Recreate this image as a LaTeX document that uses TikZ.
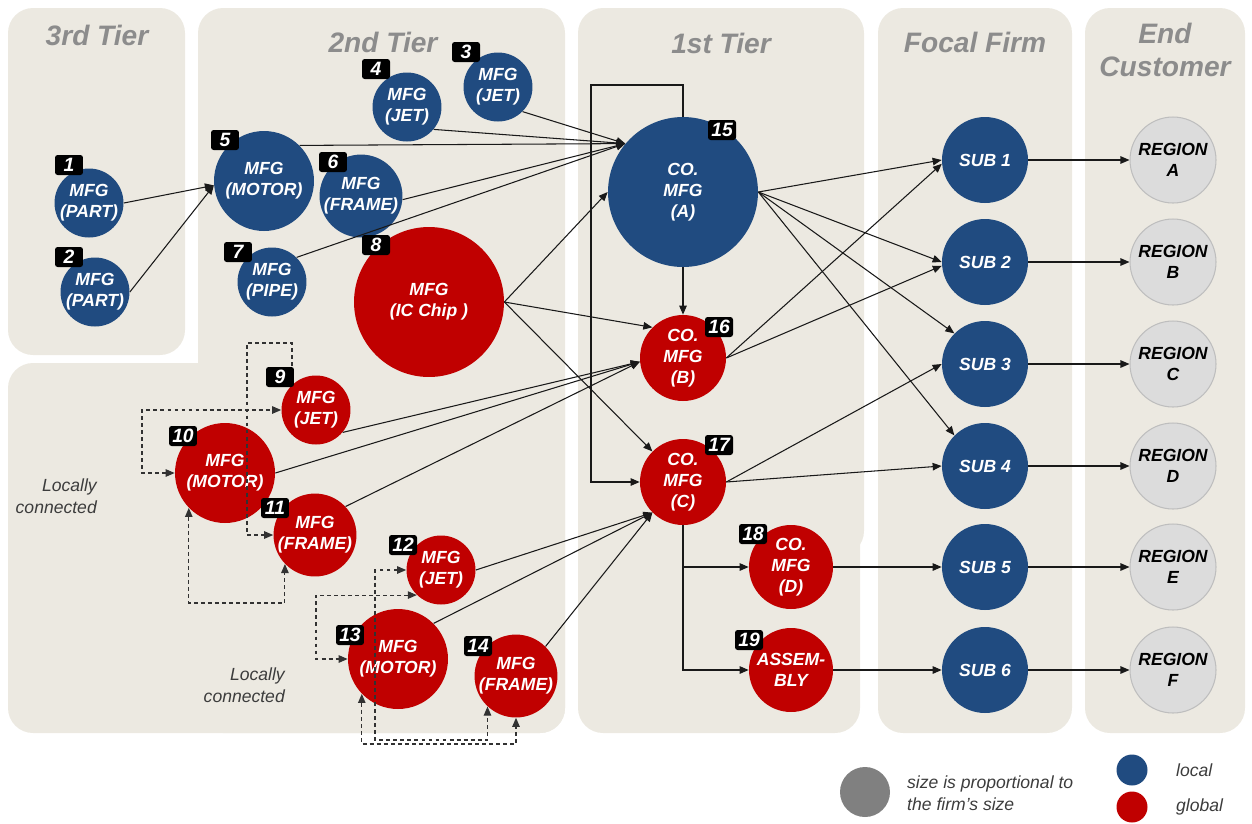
\documentclass[tikz,border=0pt]{standalone}
\usepackage{fontspec}
\setmainfont{Liberation Sans}
\usetikzlibrary{arrows.meta}
\definecolor{panel}{RGB}{236,233,225}
\definecolor{localblue}{RGB}{32,75,128}
\definecolor{globalred}{RGB}{192,0,0}
\definecolor{headgray}{RGB}{140,140,140}
\definecolor{notegray}{RGB}{60,60,60}
\definecolor{regionfill}{RGB}{220,220,220}
\definecolor{regionedge}{RGB}{190,190,190}
\definecolor{sizegray}{RGB}{128,128,128}
\definecolor{linkc}{RGB}{25,25,25}
\definecolor{dashc}{RGB}{50,50,50}
\begin{document}
\begin{tikzpicture}[x=0.02cm,y=-0.02cm,
  panelbox/.style={fill=panel, rounded corners=0.5cm},
  header/.style={text=headgray, font=\fontsize{16}{19}\selectfont\bfseries\itshape, align=center},
  firm/.style={circle, inner sep=0pt, text=white, align=center,
    font=\fontsize{10}{12}\selectfont\bfseries\itshape},
  bluefirm/.style={firm, fill=localblue},
  redfirm/.style={firm, fill=globalred},
  small/.style={minimum size=1.38cm},
  mid/.style={minimum size=1.72cm},
  big/.style={minimum size=2cm},
  huge/.style={minimum size=3cm},
  region/.style={circle, inner sep=0pt, minimum size=1.72cm, fill=regionfill, draw=regionedge,
    line width=0.6pt, text=black, align=center, font=\fontsize{10}{12}\selectfont\bfseries\itshape},
  numtag/.style={fill=black, rounded corners=1.5pt, text=white, inner sep=0pt,
    minimum width=0.56cm, minimum height=0.4cm, font=\fontsize{11}{11}\selectfont\bfseries\itshape},
  link/.style={draw=linkc, line width=0.6pt, -{Triangle[length=1.8mm,width=1.5mm]}},
  dashlink/.style={draw=dashc, line width=0.6pt, dash pattern=on 2.2pt off 1.8pt},
  tip/.style={-{Triangle[length=1.8mm,width=1.5mm]}},
  bothtips/.style={{Triangle[length=1.8mm,width=1.5mm]}-{Triangle[length=1.8mm,width=1.5mm]}},
  note/.style={text=notegray, align=right, font=\fontsize{10}{12.5}\selectfont\itshape},
  legtext/.style={text=notegray, align=left, font=\fontsize{10}{12.5}\selectfont\itshape}
]
\useasboundingbox (0,0) rectangle (1252,823);

% tier panels
\fill[panelbox] (8,8) rectangle (185,355);
\fill[panelbox] (198,8) rectangle (565,733);
\fill[panelbox] (8,363) rectangle (565,733);
\fill[panelbox] (578,8) rectangle (864,556);
\fill[panelbox] (578,300) rectangle (860,733);
\fill[panelbox] (878,8) rectangle (1072,733);
\fill[panelbox] (1085,8) rectangle (1245,733);

% headers
\node[header] (h3) at (97,35) {3rd Tier};
\node[header] (h2) at (383,42) {2nd Tier};
\node[header] (h1) at (721,43) {1st Tier};
\node[header] (hf) at (975,42) {Focal Firm};
\node[header] (he) at (1165,50) {End\\Customer};

% firms
\node[bluefirm, small] (n1) at (89,203) {MFG\\(PART)};
\node[bluefirm, small] (n2) at (95,292) {MFG\\(PART)};
\node[bluefirm, small] (n3) at (498,87) {MFG\\(JET)};
\node[bluefirm, small] (n4) at (407,107) {MFG\\(JET)};
\node[bluefirm, big] (n5) at (264,181) {MFG\\(MOTOR)};
\node[bluefirm, small] (n6) at (361,196) {MFG\\(FRAME)};
\node[bluefirm, small] (n7) at (272,282) {MFG\\(PIPE)};
\node[redfirm, huge] (n8) at (429,302) {MFG\\(IC Chip )};
\node[redfirm, small] (n9) at (316,410) {MFG\\(JET)};
\node[redfirm, big] (n10) at (225,473) {MFG\\(MOTOR)};
\node[redfirm, small] (n11) at (315,535) {MFG\\(FRAME)};
\node[redfirm, small] (n12) at (441,570) {MFG\\(JET)};
\node[redfirm, big] (n13) at (398,659) {MFG\\(MOTOR)};
\node[redfirm, small] (n14) at (516,676) {MFG\\(FRAME)};
\node[bluefirm, huge] (n15) at (683,192) {CO.\\MFG\\(A)};
\node[redfirm, mid] (n16) at (683,358) {CO.\\MFG\\(B)};
\node[redfirm, mid] (n17) at (683,482) {CO.\\MFG\\(C)};
\node[redfirm, minimum size=1.68cm] (n18) at (791,567) {CO.\\MFG\\(D)};
\node[redfirm, minimum size=1.68cm] (n19) at (791,670) {ASSEM-\\BLY};

% focal firm subsidiaries and end customer regions
\foreach \i/\y/\r in {1/160/A,2/262/B,3/364/C,4/466/D,5/567/E,6/670/F}{
  \node[bluefirm, mid] (s\i) at (985,\y) {SUB \i};
  \node[region] (r\i) at (1173,\y) {REGION\\\r};
}

% supply links
\draw[link] (n1.east) -- (n5.185);
\draw[link] (n2.east) -- (n5.185);
\draw[link] (n3.-45) -- (n15.140);
\draw[link] (n4.-40) -- (n15.140);
\draw[link] (n5.45) -- (n15.140);
\draw[link] (n6.-5) -- (n15.140);
\draw[link] (n7.45) -- (n15.140);
\draw[link] (n8.east) -- (n15.west);
\draw[link] (n8.east) -- (n16.135);
\draw[link] (n8.east) -- (n17.135);
\draw[link] (n9.-40) -- (n16.185);
\draw[link] (n10.east) -- (n16.185);
\draw[link] (n11.43) -- (n16.185);
\draw[link] (n12.east) -- (n17.225);
\draw[link] (n13.45) -- (n17.225);
\draw[link] (n14.45) -- (n17.225);
\draw[link] (n15.south) -- (n16.north);
\coordinate (bk) at (591,85);
\draw[link] (n15.north) |- (bk) |- (n17.west);
\draw[link] (n17.south) |- (n18.west);
\draw[link] (n17.south) |- (n19.west);
\draw[link] (n15.east) -- (s1.west);
\draw[link] (n15.east) -- (s2.west);
\draw[link] (n15.east) -- (s3.135);
\draw[link] (n15.east) -- (s4.135);
\draw[link] (n16.east) -- (s1.185);
\draw[link] (n16.east) -- (s2.185);
\draw[link] (n17.east) -- (s3.west);
\draw[link] (n17.east) -- (s4.west);
\draw[link] (n18.east) -- (s5.west);
\draw[link] (n19.east) -- (s6.west);
\foreach \i in {1,...,6}{\draw[link] (s\i.east) -- (r\i.west);}

% local connections
\coordinate (d9) at (292,366);
\coordinate (w9a) at (292,343);
\coordinate (w9b) at (247,343);
\coordinate (w910) at (142,410);
\coordinate (w1011) at (250,603);
\coordinate (w1214) at (375,740);
\coordinate (w1213) at (316,597);
\coordinate (w1314) at (450,744);
\draw[dashlink, tip] (d9) -- (w9a) -- (w9b) |- (n11.west);
\draw[dashlink, bothtips] (n10.west) -| (w910) -- (n9.west);
\draw[dashlink, bothtips] (n10.224) |- (w1011) -| (n11.224);
\draw[dashlink, bothtips] (n12.west) -| (w1214) -| (n14.227);
\draw[dashlink, bothtips] (n12.226) -| (w1213) |- (n13.west);
\draw[dashlink, bothtips] (n13.224) |- (w1314) -| (n14.south);

% firm numbers
\foreach \k/\x/\y in {1/69/165,2/69/257,3/466/52,4/376/69,5/225/140,6/333/162,7/238/252,
  8/376/245,9/280/377,10/183/436,11/275/508,12/403/545,13/350/635,14/478/646,
  15/722/130,16/719/327,17/719/445,18/753/534,19/749/640}{
  \node[numtag] (t\k) at (\x,\y) {\k};
}

% notes
\node[note, anchor=east] (lc1) at (103,496) {Locally\\connected};
\node[note, anchor=east] (lc2) at (291,685) {Locally\\connected};

% legend
\node[circle, fill=sizegray, minimum size=1cm, inner sep=0pt] (lgsize) at (865,792) {};
\node[legtext, anchor=west] (lgsizet) at (901,793) {size is proportional to\\the firm’s size};
\node[circle, fill=localblue, minimum size=0.62cm, inner sep=0pt] (lgl) at (1132,770) {};
\node[legtext, anchor=west] (lglt) at (1170,770) {local};
\node[circle, fill=globalred, minimum size=0.62cm, inner sep=0pt] (lgg) at (1132,807) {};
\node[legtext, anchor=west] (lggt) at (1170,807) {global};
\end{tikzpicture}
\end{document}
